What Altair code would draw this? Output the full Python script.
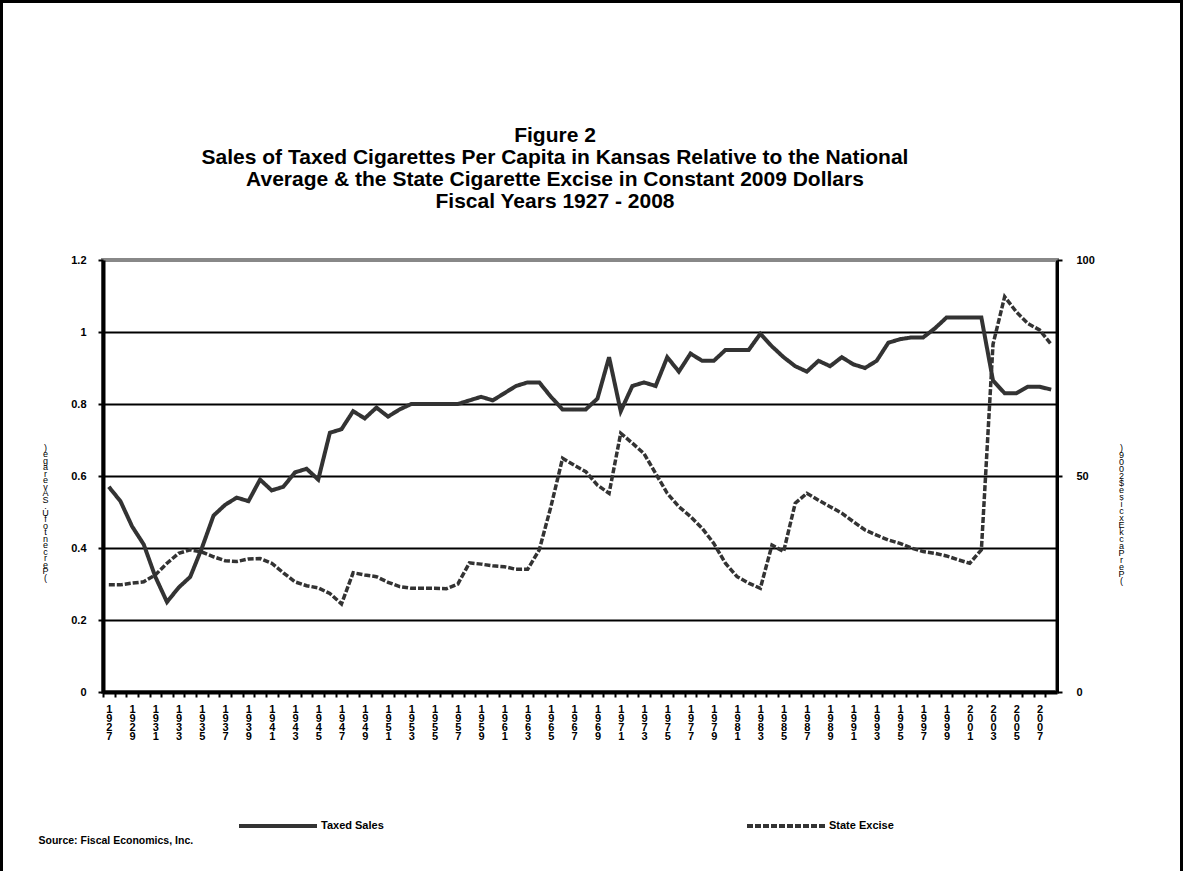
import altair as alt
import pandas as pd

years = list(range(1927, 2009))

taxed_sales = [
    0.57, 0.53, 0.46, 0.41, 0.32, 0.25, 0.29, 0.32, 0.40, 0.49,
    0.52, 0.54, 0.53, 0.59, 0.56, 0.57, 0.61, 0.62, 0.59, 0.72,
    0.73, 0.78, 0.76, 0.79, 0.765, 0.785, 0.80, 0.80, 0.80, 0.80,
    0.80, 0.81, 0.82, 0.81, 0.83, 0.85, 0.86, 0.86, 0.82, 0.785,
    0.785, 0.785, 0.815, 0.93, 0.78, 0.85, 0.86, 0.85, 0.93, 0.89,
    0.94, 0.92, 0.92, 0.95, 0.95, 0.95, 0.995, 0.96, 0.93, 0.905,
    0.89, 0.92, 0.905, 0.93, 0.91, 0.90, 0.92, 0.97, 0.98, 0.985,
    0.985, 1.01, 1.04, 1.04, 1.04, 1.04, 0.865, 0.83, 0.83, 0.848,
    0.848, 0.84,
]

state_excise = [
    24.8, 24.8, 25.2, 25.5, 27.1, 29.8, 32.1, 32.9, 32.4, 31.3,
    30.4, 30.2, 30.8, 30.9, 29.8, 27.6, 25.5, 24.6, 24.1, 22.8,
    20.4, 27.6, 27.1, 26.7, 25.4, 24.4, 24.0, 24.0, 24.0, 23.9,
    25.0, 29.9, 29.6, 29.2, 29.0, 28.4, 28.4, 32.9, 42.9, 54.1,
    52.5, 51.0, 47.9, 46.0, 59.9, 57.6, 55.2, 50.6, 46.0, 42.9,
    40.6, 37.9, 34.4, 29.8, 26.7, 25.2, 24.0, 34.0, 32.5, 43.7,
    46.0, 44.4, 42.9, 41.4, 39.4, 37.5, 36.3, 35.2, 34.4, 33.3,
    32.5, 32.1, 31.5, 30.6, 29.8, 32.9, 80.5, 91.5, 88.0, 85.3,
    83.8, 80.5,
]

title_lines = [
    "Figure 2",
    "Sales of Taxed Cigarettes Per Capita in Kansas Relative to the National",
    "Average & the State Cigarette Excise in Constant 2009 Dollars",
    "Fiscal Years 1927 - 2008",
]
left_title = "(Percent of U.S Average)"
right_title = "(Per Pack Excise $2009)"
source_text = "Source: Fiscal Economics, Inc."
left_ticks = [0, 0.2, 0.4, 0.6, 0.8, 1, 1.2]
right_ticks = [0, 50, 100]

df = pd.DataFrame({"year": years, "sales": taxed_sales, "excise": state_excise})

FONT = "Liberation Sans"
LINE = "#333333"
W, H = 954, 432
half = W / len(years) / 2

x_enc = alt.X(
    "year:Q",
    scale=alt.Scale(domain=[1926.5, 2008.5], nice=False, zero=False),
    axis=alt.Axis(
        values=years,
        tickOffset=-half,
        labelOffset=half,
        labelExpr="datum.value % 2 == 1 ? split(toString(datum.value), '') : ''",
        labelAngle=0,
        labelAlign="center",
        labelBaseline="top",
        labelLineHeight=9,
        labelFontSize=11,
        labelFontWeight="bold",
        labelFont=FONT,
        labelColor="black",
        labelPadding=6,
        labelOverlap=False,
        labelBound=False,
        labelFlush=False,
        domainColor="black",
        domainWidth=4,
        tickColor="black",
        tickSize=5,
        tickWidth=2,
        grid=False,
        title=source_text,
        titleX=-65,
        titleY=148,
        titleAlign="left",
        titleBaseline="middle",
        titleAngle=0,
        titleFont=FONT,
        titleFontSize=10.5,
        titleFontWeight="bold",
        titleColor="black",
    ),
)

sales = (
    alt.Chart(df)
    .transform_calculate(series="'Taxed Sales'")
    .mark_line(color=LINE, strokeWidth=4)
    .encode(
        x=x_enc,
        y=alt.Y(
            "sales:Q",
            scale=alt.Scale(domain=[0, 1.2], nice=False),
            axis=alt.Axis(
                orient="left",
                values=left_ticks,
                format="~g",
                labelFont=FONT,
                labelFontSize=11,
                labelFontWeight="bold",
                labelColor="black",
                labelPadding=12,
                domainColor="black",
                domainWidth=4,
                tickColor="black",
                tickSize=5,
                tickWidth=2,
                grid=True,
                gridColor="black",
                gridWidth=2,
                gridOpacity={"condition": {"test": "datum.value > 1.1 || datum.value < 0.1", "value": 0}, "value": 1},
                title=list(reversed(left_title)),
                titleX=-58,
                titleY=187,
                titleAngle=0,
                titleAlign="center",
                titleBaseline="middle",
                titleFont=FONT,
                titleFontSize=9,
                titleFontWeight="normal",
                titleLineHeight=6.5,
                titleColor="black",
            ),
        ),
        strokeDash=alt.StrokeDash(
            "series:N",
            scale=alt.Scale(domain=["Taxed Sales"], range=[[1, 0]]),
            legend=alt.Legend(
                orient="none",
                legendX=134,
                legendY=525,
                title=None,
                symbolType="stroke",
                symbolSize=6084,
                symbolStrokeWidth=4,
                symbolStrokeColor=LINE,
                labelFont=FONT,
                labelFontSize=11,
                labelFontWeight="bold",
                labelColor="black",
                labelOffset=2,
            ),
        ),
    )
)

excise = (
    alt.Chart(df)
    .transform_calculate(series="'State Excise'")
    .mark_line(color=LINE, strokeWidth=3.5)
    .encode(
        x=x_enc,
        y=alt.Y(
            "excise:Q",
            scale=alt.Scale(domain=[0, 100], nice=False),
            axis=alt.Axis(
                orient="right",
                values=right_ticks,
                format="d",
                labelFont=FONT,
                labelFontSize=11,
                labelFontWeight="bold",
                labelColor="black",
                labelPadding=14,
                domainColor="black",
                domainWidth=3,
                tickColor="black",
                tickSize=5,
                tickWidth=2,
                grid=False,
                title=list(reversed(right_title)),
                titleX=64,
                titleY=187,
                titleAngle=0,
                titleAlign="center",
                titleBaseline="middle",
                titleFont=FONT,
                titleFontSize=9,
                titleFontWeight="normal",
                titleLineHeight=7,
                titleColor="black",
            ),
        ),
        strokeDash=alt.StrokeDash(
            "series:N",
            scale=alt.Scale(domain=["State Excise"], range=[[6, 2]]),
            legend=alt.Legend(
                orient="none",
                legendX=642,
                legendY=525,
                title=None,
                symbolType="stroke",
                symbolSize=6084,
                symbolStrokeWidth=4,
                symbolStrokeColor=LINE,
                labelFont=FONT,
                labelFontSize=11,
                labelFontWeight="bold",
                labelColor="black",
                labelOffset=2,
            ),
        ),
    )
)

frame = (
    alt.Chart(pd.DataFrame({"k": [0]}))
    .mark_rect(fill=None, stroke="black", strokeWidth=3)
    .encode(
        x=alt.value(-101.5),
        x2=alt.value(1078.5),
        y=alt.value(-258.5),
        y2=alt.value(640),
    )
)

chart = (
    alt.layer(frame, sales, excise)
    .resolve_scale(y="independent", strokeDash="independent")
    .properties(
        width=W,
        height=H,
        autosize=alt.AutoSizeParams(type="none"),
        padding={"left": 103, "top": 260, "right": 126, "bottom": 179},
        title=alt.TitleParams(
            text=title_lines,
            font=FONT,
            fontSize=21,
            fontWeight="bold",
            lineHeight=22,
            anchor="middle",
            dx=-25,
            offset=0,
            dy=212,
            color="black",
        ),
    )
    .configure(background="white")
    .configure_view(stroke="#888888", strokeWidth=4)
)

chart.save("out.html", embed_options={"renderer": "svg", "actions": False})
